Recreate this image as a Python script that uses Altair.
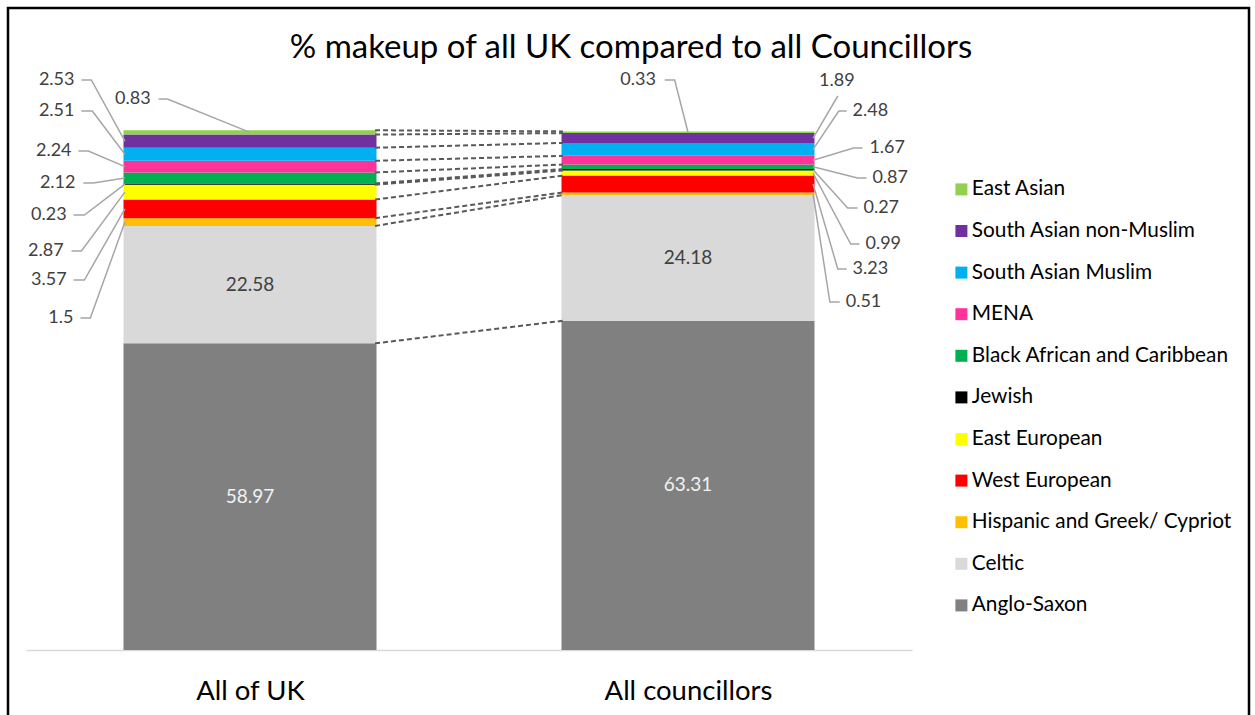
import altair as alt
import pandas as pd

# ---------------- data ----------------
CATEGORIES = ["All of UK", "All councillors"]
GROUPS = [
    "Anglo-Saxon", "Celtic", "Hispanic and Greek/ Cypriot", "West European",
    "East European", "Jewish", "Black African and Caribbean", "MENA",
    "South Asian Muslim", "South Asian non-Muslim", "East Asian",
]
UK_VALUES = [58.97, 22.58, 1.5, 3.57, 2.87, 0.23, 2.12, 2.24, 2.51, 2.53, 0.83]
COUNCILLOR_VALUES = [63.31, 24.18, 0.51, 3.23, 0.99, 0.27, 0.87, 1.67, 2.48, 1.89, 0.33]
COLORS = ["#808080", "#D9D9D9", "#FFC000", "#FF0000", "#FFFF00", "#000000",
          "#00B050", "#FF3399", "#00B0F0", "#7030A0", "#92D050"]
TITLE = "% makeup of all UK compared to all Councillors"
INSIDE_LABELLED = {"Anglo-Saxon": "#F2F2F2", "Celtic": "#404040"}

# ---------------- layout ----------------
FONT = "Lato"
PAGE_W, PAGE_H = 1255, 715
PAD_L, PAD_T = 26, 130
W, H = 886, 520
BAR_PX = 253
STEP = W / 2
HALF = BAR_PX / 2 / STEP
XDOM = [-0.5, 1.5]
YDOM = [0, 100]


def px_x(px):
    return (px - PAD_L) / STEP - 0.5


def px_y(py):
    return (PAD_T + H - py) / H * 100


# callout layout in page pixels: text_x, text_y, align, line_x, line_y, elbow_x, anchor
CALLOUTS = {
    (0, "East Asian"): (147, 99, "right", 155, 99, 164, "center"),
    (0, "South Asian non-Muslim"): (70, 80, "right", 77, 80, 87, "edge"),
    (0, "South Asian Muslim"): (70, 111, "right", 77, 111, 88, "edge"),
    (0, "MENA"): (67, 151, "right", 74, 151, 84, "edge"),
    (0, "Black African and Caribbean"): (71, 183, "right", 79, 183, 89, "edge"),
    (0, "Jewish"): (62, 215, "right", 69, 215, 80, "edge"),
    (0, "East European"): (59, 251, "right", 67, 251, 77, "edge"),
    (0, "West European"): (62, 280, "right", 69, 280, 80, "edge"),
    (0, "Hispanic and Greek/ Cypriot"): (69, 318, "right", 76, 318, 86, "edge"),
    (1, "East Asian"): (658, 80, "right", 667, 80, 677, "center"),
    (1, "South Asian non-Muslim"): (823, 81, "left", 842, 96, 842, "edge"),
    (1, "South Asian Muslim"): (857, 111, "left", 851, 111, 843, "edge"),
    (1, "MENA"): (874, 148, "left", 867, 148, 858, "edge"),
    (1, "Black African and Caribbean"): (877, 178, "left", 871, 178, 862, "edge"),
    (1, "Jewish"): (868, 208, "left", 862, 208, 852, "edge"),
    (1, "East European"): (870, 244, "left", 864, 244, 855, "edge"),
    (1, "West European"): (857, 269, "left", 851, 269, 842, "edge"),
    (1, "Hispanic and Greek/ Cypriot"): (850, 302, "left", 844, 302, 834, "edge"),
}

# ---------------- tables ----------------
rows = []
for ci, (cat, vals) in enumerate(zip(CATEGORIES, [UK_VALUES, COUNCILLOR_VALUES])):
    cum = 0.0
    for gi, (g, v) in enumerate(zip(GROUPS, vals)):
        rows.append(dict(cat=cat, pos=ci, group=g, value=v, rank=gi,
                         y0=cum, y1=cum + v, mid=cum + v / 2, label=f"{v:g}"))
        cum += v
df = pd.DataFrame(rows)

inside = df[df["group"].isin(INSIDE_LABELLED)].copy()
inside["tcolor"] = inside["group"].map(INSIDE_LABELLED)

text_rows, line_rows = [], []
for (ci, g), (tx, ty, al, lx, ly, ex, anchor) in CALLOUTS.items():
    r = df[(df["pos"] == ci) & (df["group"] == g)].iloc[0]
    text_rows.append(dict(x=px_x(tx), y=px_y(ty), label=r["label"], align=al))
    if anchor == "center":
        end_x = r["pos"]
    else:
        end_x = r["pos"] - HALF if ci == 0 else r["pos"] + HALF
    cid = f"{ci}-{g}"
    line_rows += [
        dict(cid=cid, o=0, x=px_x(lx), y=px_y(ly)),
        dict(cid=cid, o=1, x=px_x(ex), y=px_y(ly)),
        dict(cid=cid, o=2, x=end_x, y=r["mid"]),
    ]
texts = pd.DataFrame(text_rows)
lines = pd.DataFrame(line_rows)

uk = df[df["pos"] == 0].reset_index(drop=True)
co = df[df["pos"] == 1].reset_index(drop=True)
conn = pd.DataFrame(dict(x=0 + HALF, x2=1 - HALF, y=uk["y1"], y2=co["y1"]))

xs = alt.Scale(domain=XDOM, nice=False, zero=False)
ys = alt.Scale(domain=YDOM, nice=False, zero=False)

label_expr = "[" + ",".join(f"'{c}'" for c in CATEGORIES) + "][datum.value]"
X_AXIS = alt.Axis(values=[0, 1], labelExpr=label_expr, ticks=False, grid=False,
                  domainColor="#D9D9D9", domainWidth=1.5, labelFontSize=27.5,
                  labelFont=FONT, labelColor="#000000", labelPadding=27, title=None)


def X(field):
    return alt.X(field, scale=xs, axis=X_AXIS, title=None)


def Y(field):
    return alt.Y(field, scale=ys, axis=None)


frame = alt.Chart(pd.DataFrame({"k": [0]})).mark_rect(
    filled=False, stroke="black", strokeWidth=2.5
).encode(
    x=alt.value(-18), x2=alt.value(1223), y=alt.value(-122), y2=alt.value(620)
)

bars = alt.Chart(df).mark_bar(size=BAR_PX).encode(
    x=X("pos:Q"),
    y=Y("y0:Q"),
    y2="y1:Q",
    color=alt.Color("group:N",
                    scale=alt.Scale(domain=GROUPS[::-1], range=COLORS[::-1]),
                    legend=alt.Legend(title=None, orient="none", legendX=925, legendY=49,
                                      symbolType="square", symbolSize=144,
                                      symbolStrokeWidth=0, labelFontSize=20.8,
                                      labelFont=FONT, labelColor="#000000",
                                      labelLimit=400, rowPadding=19.6, labelOffset=0,
                                      padding=0)),
)

connectors = alt.Chart(conn).mark_rule(
    color="#595959", strokeDash=[5, 3], strokeWidth=2
).encode(
    x=X("x:Q"), x2="x2:Q",
    y=Y("y:Q"), y2="y2:Q",
)

leaders = alt.Chart(lines).mark_line(color="#A6A6A6", strokeWidth=1.5).encode(
    x=X("x:Q"),
    y=Y("y:Q"),
    detail="cid:N",
    order="o:Q",
)

inside_text = alt.Chart(inside).mark_text(font=FONT, fontSize=19).encode(
    x=X("pos:Q"),
    y=Y("mid:Q"),
    text="label:N",
    color=alt.Color("tcolor:N", scale=None),
)

left_text = alt.Chart(texts[texts["align"] == "right"]).mark_text(
    font=FONT, fontSize=18, align="right", baseline="middle", color="#404040"
).encode(
    x=X("x:Q"),
    y=Y("y:Q"),
    text="label:N",
)

right_text = alt.Chart(texts[texts["align"] == "left"]).mark_text(
    font=FONT, fontSize=18, align="left", baseline="middle", color="#404040"
).encode(
    x=X("x:Q"),
    y=Y("y:Q"),
    text="label:N",
)

title = alt.Chart(pd.DataFrame({"t": [TITLE]})).mark_text(
    font=FONT, fontSize=33, align="center", baseline="alphabetic", color="#000000"
).encode(
    x=alt.value(605), y=alt.value(-72), text="t:N"
)

chart = alt.layer(
    frame, bars, connectors, leaders, inside_text, left_text, right_text, title
).properties(
    width=W, height=H,
    padding={"left": PAD_L, "top": PAD_T,
             "right": PAGE_W - PAD_L - W, "bottom": PAGE_H - PAD_T - H},
    autosize=alt.AutoSizeParams(type="none"),
    background="white",
).configure_view(stroke=None)

chart.save("out.html", embed_options={"renderer": "svg", "actions": False})
